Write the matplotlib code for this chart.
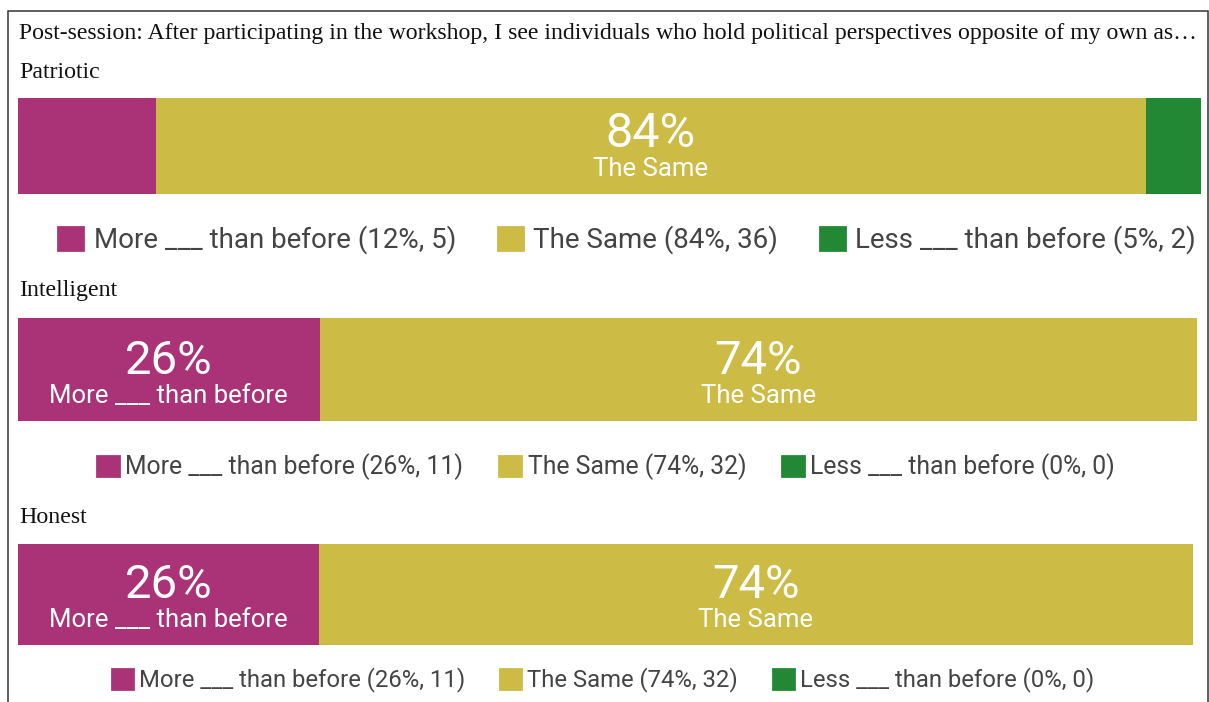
import matplotlib

matplotlib.use("Agg")
import matplotlib.pyplot as plt
from matplotlib.patches import Patch, Rectangle
from matplotlib.transforms import blended_transform_factory


TITLE = ("Post-session: After participating in the workshop, I see individuals who hold "
         "political perspectives opposite of my own as\u2026")
TRAITS = ["Patriotic", "Intelligent", "Honest"]
RESPONSES = ["More ___ than before", "The Same", "Less ___ than before"]
MORE_COUNTS = [5, 11, 11]
SAME_COUNTS = [36, 32, 32]
LESS_COUNTS = [2, 0, 0]

COLORS = ["#AA3377", "#CCBB44", "#228833"]
SANS = "Roboto"
SERIF = "Liberation Serif"

W, H = 1209, 702
BAR_LEFT = 18

# pixel layout of each block (top-down image coordinates)
PANELS = [
    {"top": 98, "bottom": 194, "right": 1201, "label_y": 78, "legend_x": 627, "legend_y": 240,
     "legend_size": 20, "pad": 0.38, "spacing": 1.5, "pct_size": 35, "name_size": 18.5},
    {"top": 318, "bottom": 421, "right": 1197, "label_y": 296, "legend_x": 606, "legend_y": 467,
     "legend_size": 17.8, "pad": 0.25, "spacing": 1.45, "pct_size": 34, "name_size": 18.5},
    {"top": 544, "bottom": 645, "right": 1193, "label_y": 523, "legend_x": 603, "legend_y": 680,
     "legend_size": 17.2, "pad": 0.25, "spacing": 1.45, "pct_size": 34, "name_size": 18.5},
]


def fx(px):
    return px / W


def fy(py):
    return 1 - py / H


def draw_panel(fig, trait, counts, layout):
    total = sum(counts)
    ax = fig.add_axes([
        fx(BAR_LEFT),
        fy(layout["bottom"]),
        fx(layout["right"] - BAR_LEFT),
        (layout["bottom"] - layout["top"]) / H,
    ])
    lefts = [sum(counts[:i]) for i in range(len(counts))]
    ax.barh([0] * len(counts), counts, left=lefts, height=1.0, color=COLORS, linewidth=0)
    ax.set_xlim(0, total)
    ax.set_ylim(-0.5, 0.5)
    ax.axis("off")

    trans = blended_transform_factory(ax.transData, ax.transAxes)
    for name, n, left in zip(RESPONSES, counts, lefts):
        share = n / total
        if share < 0.2:
            continue
        xc = left + n / 2
        ax.annotate(f"{round(share * 100)}%", xy=(xc, 0), xycoords=trans,
                    xytext=(0, 47), textcoords="offset pixels", ha="center", va="baseline",
                    color="white", fontsize=layout["pct_size"], family=SANS)
        ax.annotate(name, xy=(xc, 0), xycoords=trans,
                    xytext=(0, 18), textcoords="offset pixels", ha="center", va="baseline",
                    color="white", fontsize=layout["name_size"], family=SANS)

    fig.text(fx(19), fy(layout["label_y"]), trait, family=SERIF, fontsize=17.2,
             va="baseline", ha="left", color="#111111")

    handles = [
        Patch(facecolor=c, edgecolor=c, linewidth=2, joinstyle="round",
              label=f"{name} ({round(n / total * 100)}%, {n})")
        for name, n, c in zip(RESPONSES, counts, COLORS)
    ]
    fig.legend(handles=handles, loc="center", ncol=3, frameon=False,
               bbox_to_anchor=(fx(layout["legend_x"]), fy(layout["legend_y"])),
               prop={"family": SANS, "size": layout["legend_size"]},
               handlelength=0.9, handleheight=0.9, handletextpad=layout["pad"],
               columnspacing=layout["spacing"], labelcolor="#444444",
               borderaxespad=0, borderpad=0)


def main():
    fig = plt.figure(figsize=(W / 100, H / 100), dpi=100)
    fig.add_artist(Rectangle((fx(7.5), -0.1), fx(1200), fy(11) + 0.1, transform=fig.transFigure,
                             fill=False, edgecolor="#333333", linewidth=1.1))
    fig.text(fx(19), fy(39), TITLE, family=SERIF, fontsize=17.1, va="baseline", ha="left",
             color="#111111")

    rows = zip(MORE_COUNTS, SAME_COUNTS, LESS_COUNTS)
    for trait, counts, layout in zip(TRAITS, rows, PANELS):
        draw_panel(fig, trait, list(counts), layout)

    fig.savefig("out.png", dpi=100)
    plt.close(fig)


if __name__ == "__main__":
    main()
